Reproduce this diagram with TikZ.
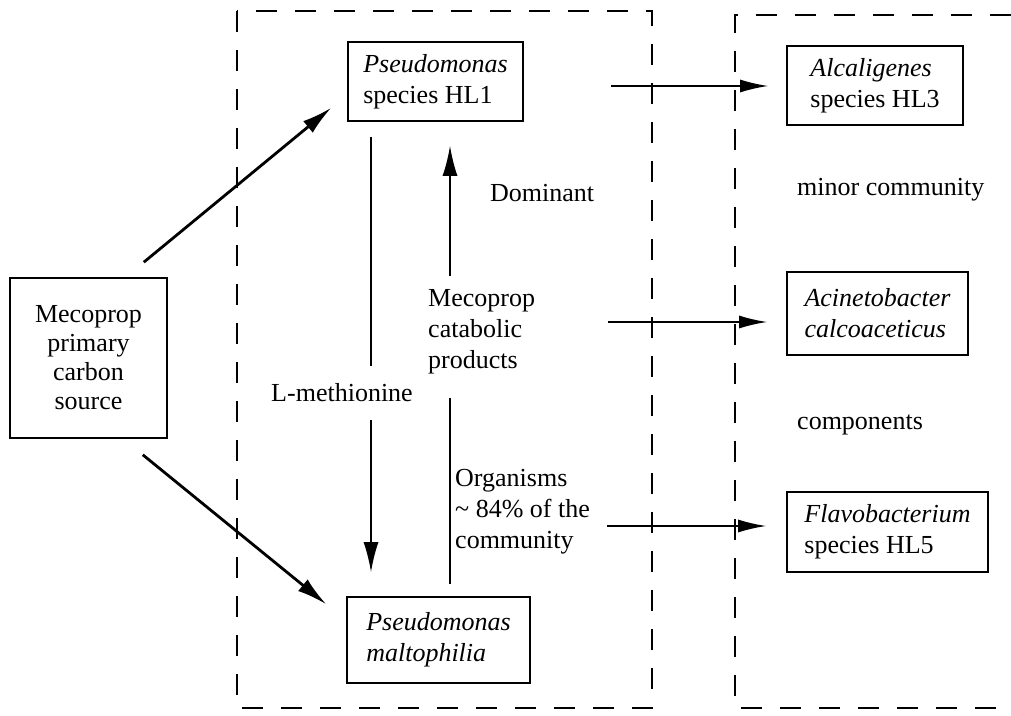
\documentclass[tikz,border=0pt]{standalone}
\usepackage{fontspec}
\setmainfont{Liberation Serif}
\usetikzlibrary{arrows.meta,calc}
\begin{document}
\begin{tikzpicture}[x=1pt,y=1pt,
  box/.style={draw,line width=1.6pt,inner sep=0pt,font=\fontsize{26}{31}\selectfont,align=left},
  lbl/.style={inner sep=0pt,font=\fontsize{26}{31}\selectfont,align=left},
  vline/.style={line width=1.8pt},
  arr/.style={line width=1.8pt,-{Latex[length=28pt,width=13pt]}},
  varr/.style={line width=1.8pt,-{Latex[length=30pt,width=15pt]}},
  darr/.style={line width=2.8pt,-{Latex[length=30pt,width=15pt]}},
  dsh/.style={line width=1.9pt,dash pattern=on 21pt off 18pt}]
\useasboundingbox (0,0) rectangle (1011,715);
% dashed groups
\draw[dsh] (237,704) rectangle (652,7);
\draw[dsh] (1011,700) -- (735,700) -- (735,7) -- (1011,7);
% boxes
\node[box,minimum width=157pt,minimum height=160pt,align=center,font=\fontsize{26}{29}\selectfont] (mec) at (88.5,357) {Mecoprop\\primary\\carbon\\source};
\node[box,minimum width=175pt,minimum height=79pt] (hl1) at (435.5,633.5) {\textit{Pseudomonas}\\species HL1};
\node[box,minimum width=183pt,minimum height=86pt] (malt) at (438.5,75) {\textit{Pseudomonas}\\\textit{maltophilia}};
\node[box,minimum width=176pt,minimum height=79pt] (alc) at (875,629.5) {\textit{Alcaligenes}\\species HL3};
\node[box,minimum width=181pt,minimum height=83pt] (aci) at (877.5,401.5) {\textit{Acinetobacter}\\\textit{calcoaceticus}};
\node[box,minimum width=201pt,minimum height=80pt] (fla) at (887.5,183) {\textit{Flavobacterium}\\species HL5};
% labels
\node[lbl,anchor=west] (dom) at (490,522) {Dominant};
\node[lbl,anchor=west] (minor) at (797,525) {minor community};
\node[lbl,anchor=west] (comp) at (797,290) {components};
\node[lbl,anchor=west] (org) at (455,203) {Organisms\\\textasciitilde\ 84\% of the\\community};
\node[lbl,inner ysep=18pt] (lmet) at (342,322) {L-methionine};
\node[lbl,anchor=west] (mcp) at (428,383) {Mecoprop\\catabolic\\products};
% helper coordinates
\coordinate (lm) at (371,0);
\coordinate (up) at (450,0);
\coordinate (h1) at (611,629);
\coordinate (h2) at (608,393);
\coordinate (h3) at (607,189);
% diagonal arrows
\draw[darr] ($(mec.north east)+(-24,15)$) -- ($(hl1.south west)+(-16,14)$);
\draw[darr] ($(mec.south east)+(-25,-16)$) -- ($(malt.north west)+(-20,-8)$);
% L-methionine arrow
\draw[vline,shorten <=15pt] (hl1.south -| lm) -- (lmet.north -| lm);
\draw[varr,shorten >=24pt] (lmet.south -| lm) -- (malt.north -| lm);
% upward arrow
\draw[vline,shorten <=12pt,shorten >=24pt] (malt.north -| up) -- (mcp.south -| up);
\draw[varr,shorten <=14pt,shorten >=24pt] (mcp.north -| up) -- (hl1.south -| up);
% horizontal arrows
\draw[arr,shorten >=18pt] (h1) -- (h1 -| alc.west);
\draw[arr,shorten >=19pt] (h2) -- (h2 -| aci.west);
\draw[arr,shorten >=20pt] (h3) -- (h3 -| fla.west);
\end{tikzpicture}
\end{document}
